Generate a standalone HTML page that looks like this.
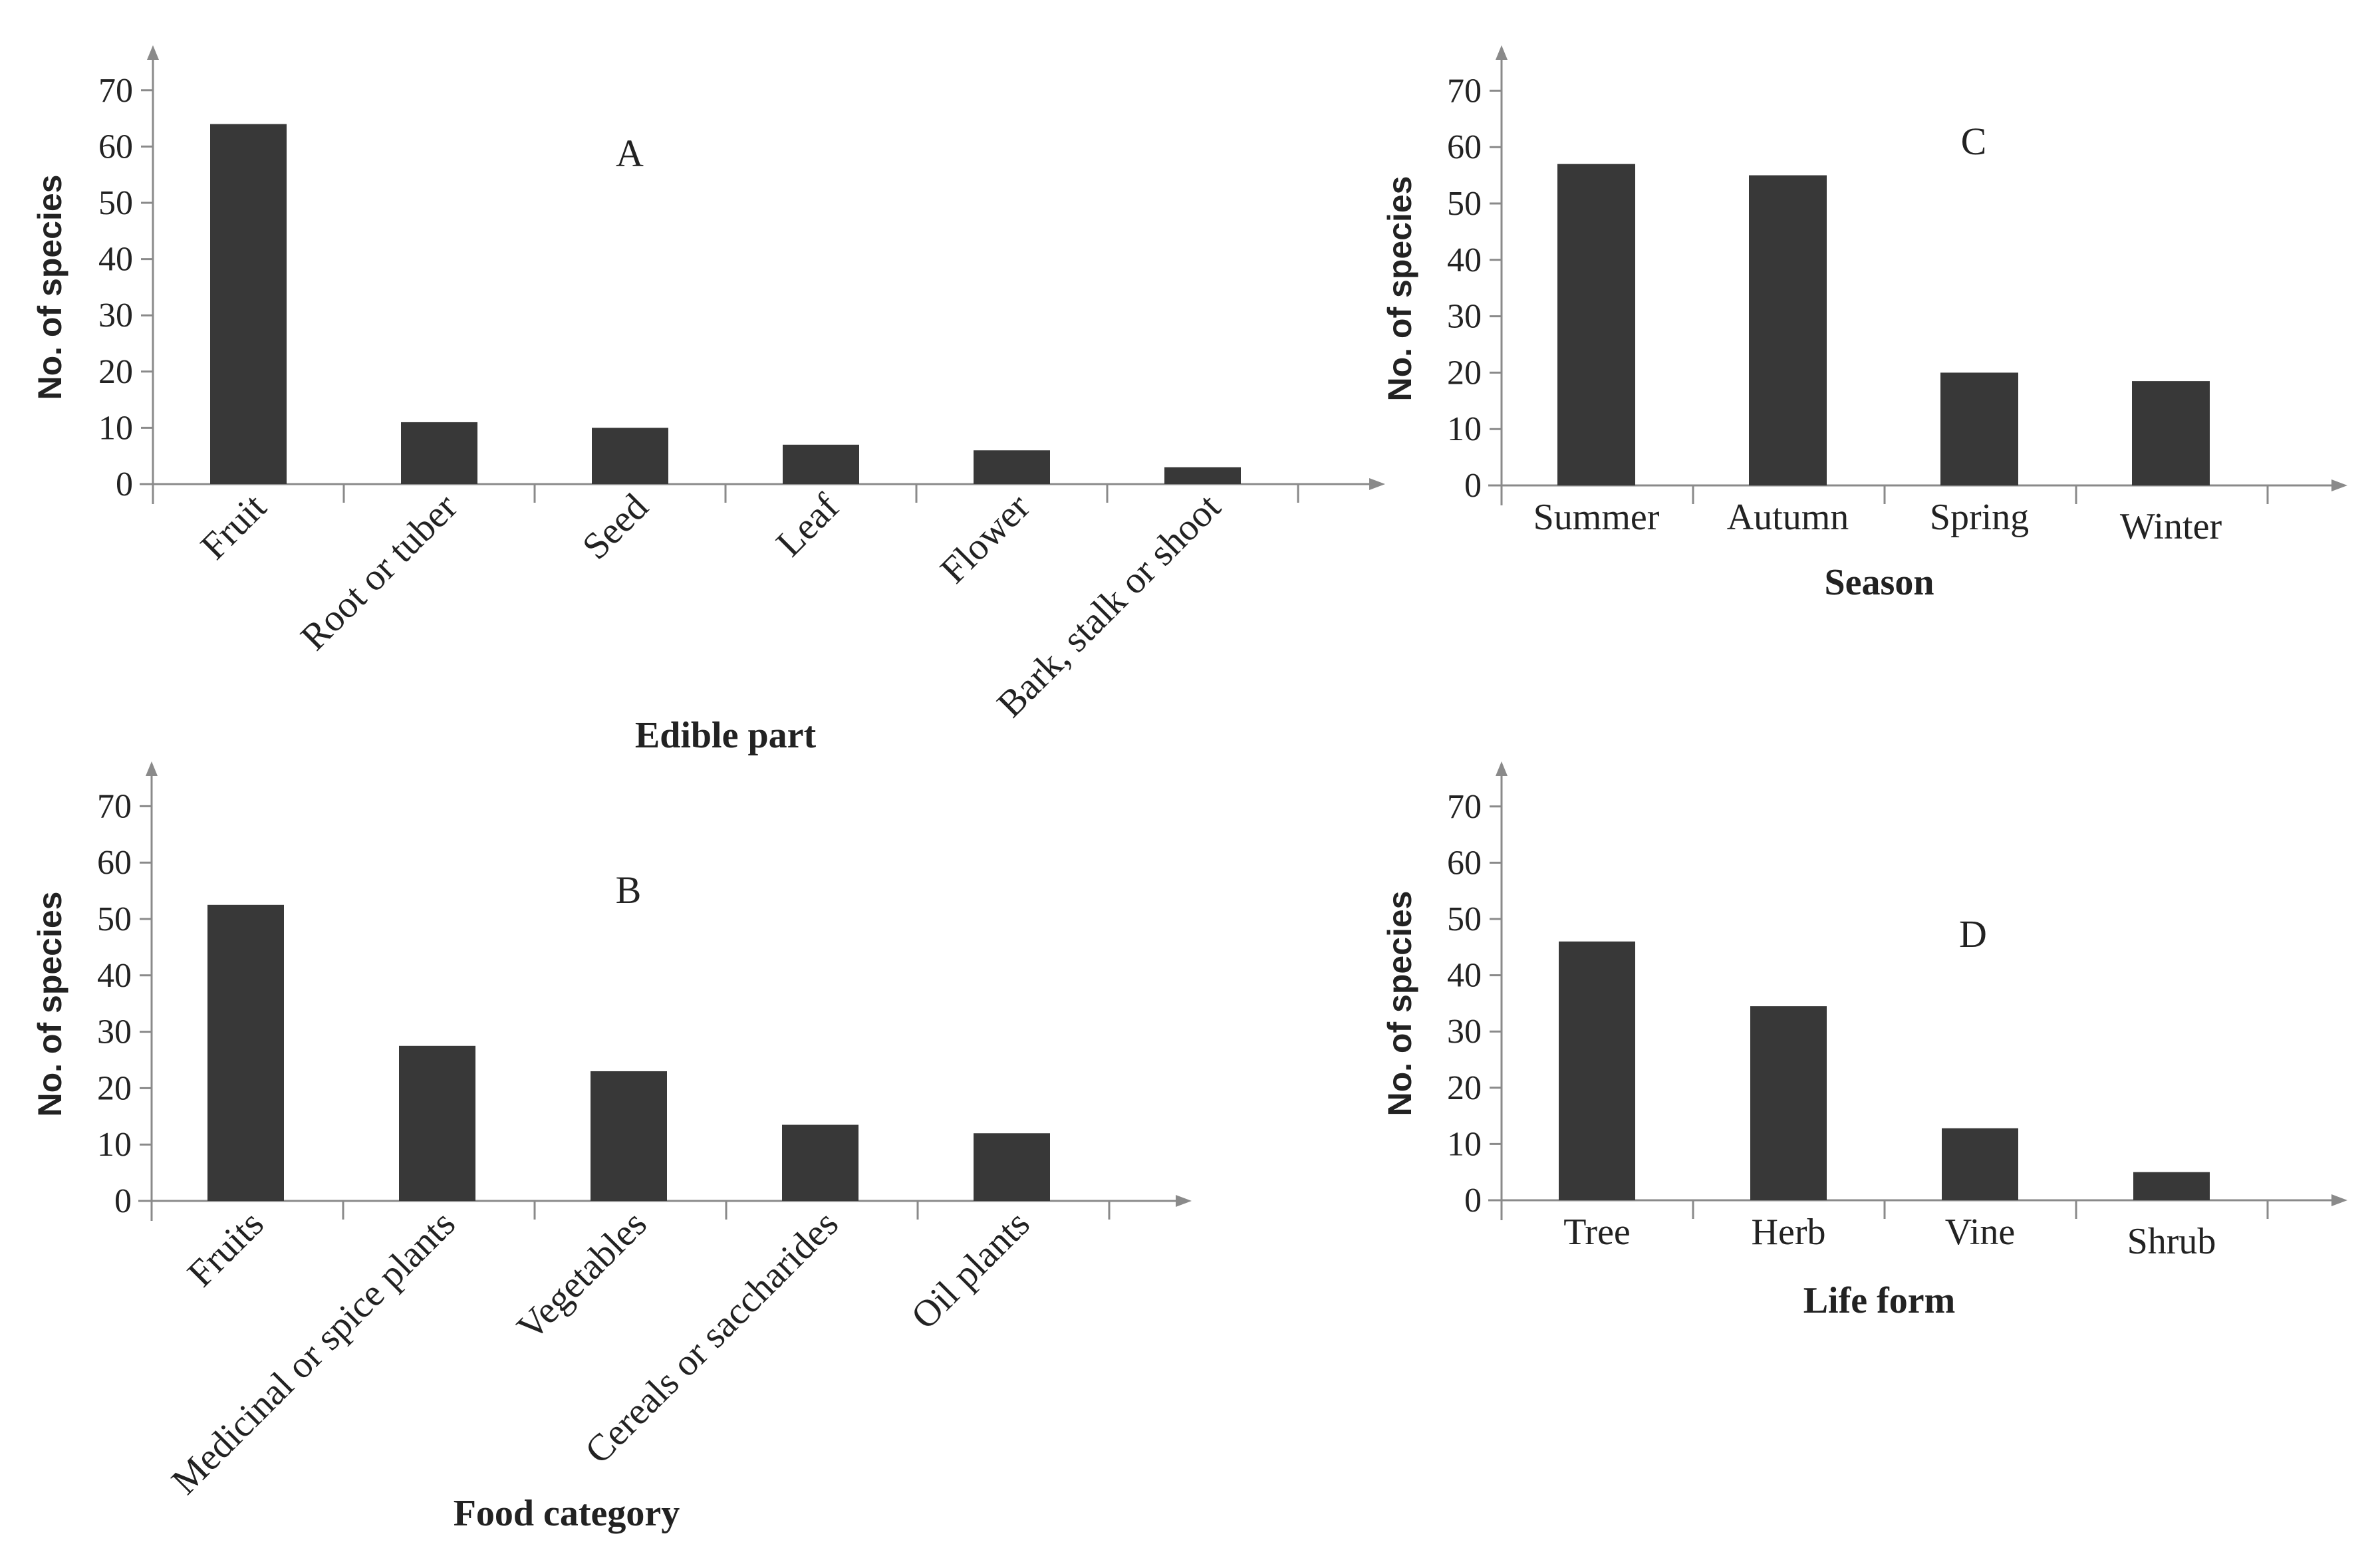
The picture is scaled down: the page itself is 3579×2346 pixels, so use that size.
<!DOCTYPE html>
<html><head><meta charset="utf-8"><style>
html,body{margin:0;padding:0;background:#fff;}
svg{display:block;}
text{font-family:"Liberation Serif",serif;fill:#222;}
</style></head><body>
<svg id="c" width="3579" height="2346" viewBox="0 0 3579 2346" xmlns="http://www.w3.org/2000/svg"></svg>
<script>
const catsA = ["Fruit","Root or tuber","Seed","Leaf","Flower","Bark, stalk or shoot"];
const valsA = [64, 11, 10, 7, 6, 3];
const catsB = ["Fruits","Medicinal or spice plants","Vegetables","Cereals or saccharides","Oil plants"];
const valsB = [52.5, 27.5, 23, 13.5, 12];
const catsC = ["Summer","Autumn","Spring","Winter"];
const valsC = [57, 55, 20, 18.5];
const catsD = ["Tree","Herb","Vine","Shrub"];
const valsD = [46, 34.5, 12.8, 5];
const yTicks = [0,10,20,30,40,50,60,70];

const svg = document.getElementById('c');
const NS = 'http://www.w3.org/2000/svg';
function mk(tag, attrs, parent){
  const e = document.createElementNS(NS, tag);
  for (const k in attrs) e.setAttribute(k, attrs[k]);
  (parent||svg).appendChild(e);
  return e;
}
function panel(id, cats, vals, o){
  const g = mk('g', {});
  
  
  const y = v => o.zero - v * o.unit;
  const axisC = '#8a8a8a';
  const ya = mk('line', {x1:o.x0, y1:o.zero+30, x2:o.x0, y2:o.top+10, stroke:axisC, 'stroke-width':3}, g);
  
  
  mk('path', {d:`M${o.x0-9},${o.top+22} L${o.x0},${o.top} L${o.x0+9},${o.top+22} Z`, fill:axisC}, g);
  const xa = mk('line', {x1:o.x0-20, y1:o.zero, x2:o.xEnd-10, y2:o.zero, stroke:axisC, 'stroke-width':3}, g);
  
  
  mk('path', {d:`M${o.xEnd-24},${o.zero-9} L${o.xEnd},${o.zero} L${o.xEnd-24},${o.zero+9} Z`, fill:axisC}, g);
  yTicks.forEach(t => {
    if (t > 0) mk('line', {x1:o.x0-18, y1:y(t), x2:o.x0, y2:y(t), stroke:axisC, 'stroke-width':3}, g);
    const tl = mk('text', {x:o.x0-30, y:y(t)+17, 'text-anchor':'end', 'font-size':52}, g);
    tl.textContent = t;
    
    
  });
  for (let i = 0; i <= cats.length; i++) {
    const tx = o.x0 + i * o.step;
    mk('line', {x1:tx, y1:o.zero, x2:tx, y2:o.zero+28, stroke:axisC, 'stroke-width':3}, g);
  }
  cats.forEach((c, i) => {
    const bx = o.x0 + i * o.step + o.off;
    const b = mk('rect', {x:bx, y:y(vals[i]), width:o.bw, height:vals[i]*o.unit, fill:'#383838'}, g);
    
    
    const cx = bx + o.bw/2;
    let t;
    if (o.rot) {
      t = mk('text', {x:cx+30, y:o.zero+38, 'text-anchor':'end', 'font-size':57,
        transform:`rotate(-45 ${cx+30} ${o.zero+38})`}, g);
    } else {
      t = mk('text', {x:cx, y:o.zero+(i===cats.length-1?80:66), 'text-anchor':'middle', 'font-size':56}, g);
    }
    t.textContent = c;
    
    
  });
  const yt = mk('text', {x:o.ytx, y:o.zero-296, 'text-anchor':'middle', 'font-size':50, 'font-weight':'bold',
    transform:`rotate(-90 ${o.ytx} ${o.zero-296})`, style:'font-family:"Liberation Sans",sans-serif'}, g);
  yt.textContent = 'No. of species';
  
  
  const pl = mk('text', {x:o.lx, y:o.ly, 'text-anchor':'middle', 'font-size':58}, g);
  pl.textContent = id;
  
  
  const xt = mk('text', {x:o.xtx, y:o.xty, 'text-anchor':'middle', 'font-size':56, 'font-weight':'bold'}, g);
  xt.textContent = o.xtitle;
  
  
}
panel('A', catsA, valsA, {x0:230, zero:728, unit:8.46, top:68, xEnd:2083, step:287, off:86, bw:115, rot:true,
  ytx:92, lx:947, ly:250, xtitle:'Edible part', xtx:1091, xty:1124});
panel('B', catsB, valsB, {x0:228, zero:1806, unit:8.48, top:1145, xEnd:1792, step:288, off:84, bw:115, rot:true,
  ytx:92, lx:945, ly:1358, xtitle:'Food category', xtx:852, xty:2294});
panel('C', catsC, valsC, {x0:2258, zero:730, unit:8.48, top:68, xEnd:3530, step:288, off:84, bw:117, rot:false,
  ytx:2122, lx:2968, ly:232, xtitle:'Season', xtx:2826, xty:894});
panel('D', catsD, valsD, {x0:2258, zero:1805, unit:8.46, top:1145, xEnd:3530, step:288, off:86, bw:115, rot:false,
  ytx:2122, lx:2967, ly:1424, xtitle:'Life form', xtx:2826, xty:1974});
</script>
</body></html>
